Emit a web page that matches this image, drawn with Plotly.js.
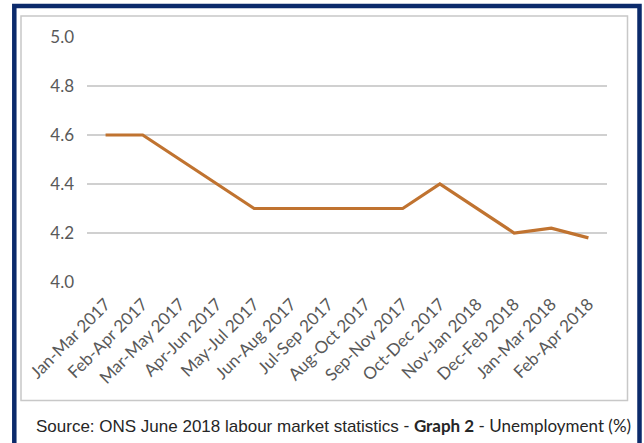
<!DOCTYPE html>
<html>
<head>
<meta charset="utf-8">
<script src="https://cdn.plot.ly/plotly-3.0.1.min.js"></script>
<style>html,body{margin:0;padding:0;background:#fff;}#chart{width:644px;height:443px;}</style>
</head>
<body>
<div id="chart"></div>
<script>
const periods = ["Jan-Mar 2017","Feb-Apr 2017","Mar-May 2017","Apr-Jun 2017","May-Jul 2017","Jun-Aug 2017","Jul-Sep 2017","Aug-Oct 2017","Sep-Nov 2017","Oct-Dec 2017","Nov-Jan 2018","Dec-Feb 2018","Jan-Mar 2018","Feb-Apr 2018"];
const unemployment = [4.6, 4.6, 4.5, 4.4, 4.3, 4.3, 4.3, 4.3, 4.3, 4.4, 4.3, 4.2, 4.22, 4.18];
const yTicks = [4.0, 4.2, 4.4, 4.6, 4.8, 5.0];

const W = 644, H = 443;
const mL = 87, mR = 37, mT = 37, mB = 161;
const pw = W - mL - mR, ph = H - mT - mB;
const px = v => (v - mL) / pw;
const py = v => (H - mB - v) / ph;

const trace = {
  x: periods,
  y: unemployment,
  type: 'scatter',
  mode: 'lines',
  line: {color: '#c07330', width: 3.2},
  hoverinfo: 'x+y'
};

const tickFont = {family: 'Lato, "Open Sans", sans-serif', size: 17, color: '#595959'};

const layout = {
  width: W, height: H,
  margin: {l: mL, r: mR, t: mT, b: mB, pad: 0},
  paper_bgcolor: '#ffffff',
  plot_bgcolor: '#ffffff',
  showlegend: false,
  xaxis: {
    type: 'category',
    range: [-0.5, periods.length - 0.5],
    tickangle: -45,
    tickfont: tickFont,
    ticklabelstandoff: 8,
    showgrid: false,
    showline: false,
    zeroline: false,
    ticks: '',
    fixedrange: true
  },
  yaxis: {
    range: [4.0, 5.0],
    tickvals: yTicks,
    ticktext: yTicks.map(v => v.toFixed(1)),
    tickfont: tickFont,
    ticklabelstandoff: 12,
    showgrid: true,
    gridcolor: '#d0d0d0',
    gridwidth: 1.6,
    zeroline: false,
    showline: false,
    ticks: '',
    fixedrange: true
  },
  shapes: [
    {type: 'rect', xref: 'paper', yref: 'paper', x0: px(14.3), x1: px(639.5), y0: py(6), y1: py(447),
     line: {color: '#0b2a6b', width: 4.5}, fillcolor: 'rgba(0,0,0,0)', layer: 'below'},
    {type: 'rect', xref: 'paper', yref: 'paper', x0: px(21), x1: px(627.5), y0: py(16), y1: py(400.5),
     line: {color: '#c8c8c8', width: 1.5}, fillcolor: 'rgba(0,0,0,0)', layer: 'below'}
  ],
  annotations: [
    {xref: 'paper', yref: 'paper', x: px(34), y: py(425.5), xanchor: 'left', yanchor: 'middle',
     showarrow: false,
     text: '<span style="font-family:\'Liberation Sans\',Arial,sans-serif;">Source: ONS June 2018 labour market statistics</span>' +
           '<span style="font-family:Lato,sans-serif;"> - <b>Graph 2</b> - Unemployment (%)</span>',
     font: {family: '"Liberation Sans", Arial, sans-serif', size: 17, color: '#262626'}}
  ]
};

Plotly.newPlot('chart', [trace], layout, {displayModeBar: false, staticPlot: true});
</script>
</body>
</html>
